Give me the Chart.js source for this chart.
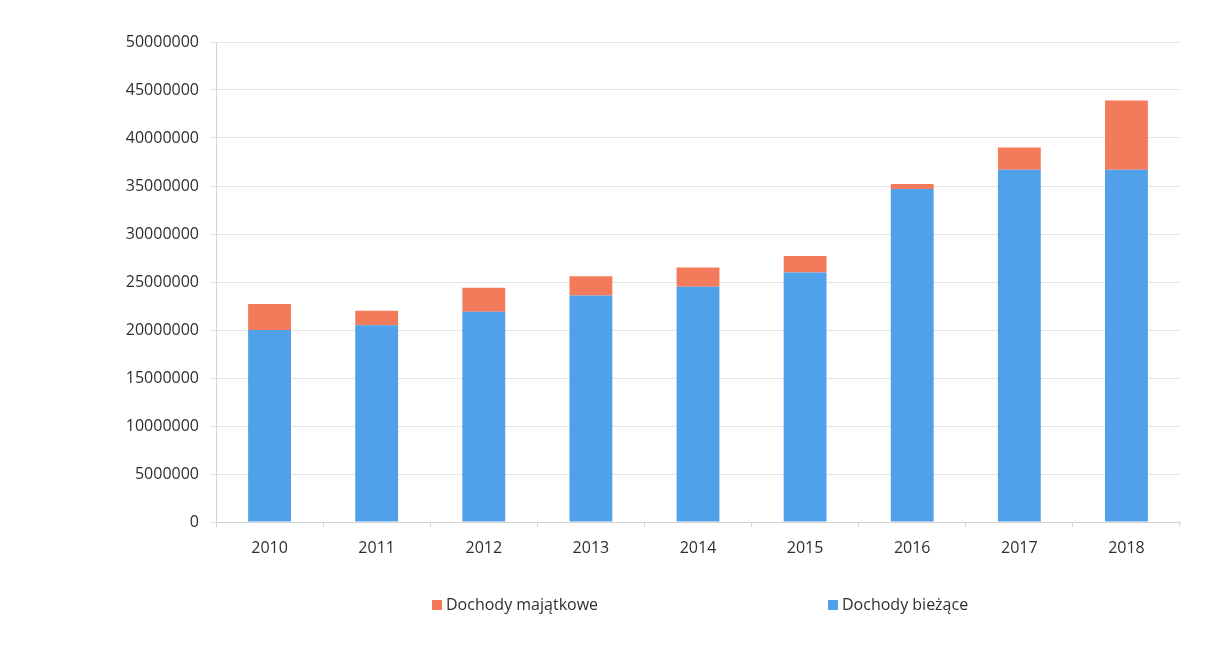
<!DOCTYPE html>
<html>
<head>
<meta charset="utf-8">
<script src="https://cdn.jsdelivr.net/npm/chart.js@4"></script>
<style>
  html, body { margin: 0; padding: 0; background: #fff; }
  #wrap { width: 1214px; height: 649px; }
</style>
</head>
<body>
<div id="wrap"><canvas id="wykres"></canvas></div>
<script>
// Dane
const lata = ["2010", "2011", "2012", "2013", "2014", "2015", "2016", "2017", "2018"];
const dochodyBiezace = [20000000, 20500000, 21900000, 23600000, 24500000, 26000000, 34700000, 36700000, 36700000];
const dochodyMajatkowe = [2700000, 1500000, 2500000, 2000000, 2000000, 1700000, 500000, 2300000, 7200000];
const osMax = 50000000;
const osKrok = 5000000;

const kolorTekstu = "#2f2f2f";
const czcionka = "'Open Sans', 'Liberation Sans', sans-serif";

// Legenda rysowana pod wykresem (elementy szeroko rozstawione jak w oryginale)
const legendaWlasna = {
  id: "legendaWlasna",
  afterDraw(chart) {
    const ctx = chart.ctx;
    const area = chart.chartArea;
    const pozycje = [area.left + 216, area.left + 612]; // x kwadracików
    const y = area.bottom + 83;
    const kolejnosc = [1, 0]; // majątkowe, potem bieżące
    ctx.save();
    ctx.font = "16px " + czcionka;
    ctx.textBaseline = "middle";
    kolejnosc.forEach((idx, i) => {
      const ds = chart.data.datasets[idx];
      ctx.fillStyle = ds.backgroundColor;
      ctx.fillRect(pozycje[i], y - 5, 10, 10);
      ctx.fillStyle = kolorTekstu;
      ctx.fillText(ds.label, pozycje[i] + 14, y);
    });
    ctx.restore();
  },
};

const configWykres = {
  type: "bar",
  data: {
    labels: lata,
    datasets: [
      {
        label: "Dochody bieżące",
        data: dochodyBiezace,
        backgroundColor: "#50a0ea",
        barPercentage: 0.4,
        categoryPercentage: 1.0,
      },
      {
        label: "Dochody majątkowe",
        data: dochodyMajatkowe,
        backgroundColor: "#f47a5c",
        barPercentage: 0.4,
        categoryPercentage: 1.0,
      },
    ],
  },
  options: {
    responsive: true,
    maintainAspectRatio: false,
    animation: false,
    layout: { padding: { top: 42, right: 34, left: 0, bottom: 83 } },
    plugins: {
      tooltip: { enabled: false },
      legend: { display: false },
    },
    scales: {
      x: {
        stacked: true,
        offset: true,
        border: { color: "#d4d4d4" },
        grid: { display: true, drawOnChartArea: false, tickLength: 5, color: "#d4d4d4" },
        ticks: { color: kolorTekstu, padding: 12, font: { family: czcionka, size: 16 } },
        afterFit: (s) => { s.height = 44; },
      },
      y: {
        stacked: true,
        min: 0,
        max: osMax,
        border: { color: "#d4d4d4" },
        grid: { color: "#e4e4e4", tickLength: 6 },
        ticks: {
          stepSize: osKrok,
          color: kolorTekstu,
          padding: 11,
          font: { family: czcionka, size: 16 },
          callback: (v) => String(v),
        },
        afterFit: (s) => { s.width = 216; },
      },
    },
  },
  plugins: [legendaWlasna],
};

new Chart(document.getElementById("wykres").getContext("2d"), configWykres);
</script>
</body>
</html>
